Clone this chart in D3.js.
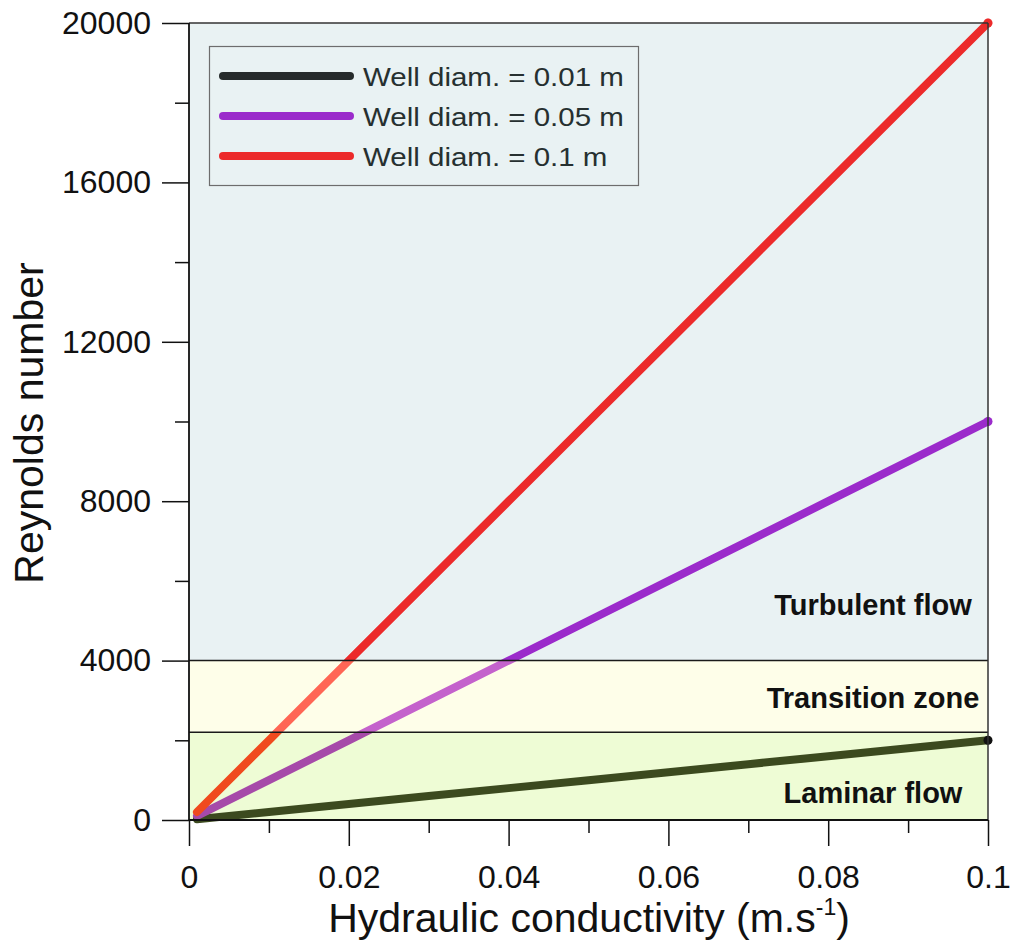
<!DOCTYPE html>
<html>
<head>
<meta charset="utf-8">
<script src="https://cdn.jsdelivr.net/npm/d3@7"></script>
<style>
  html, body { margin: 0; padding: 0; background: #ffffff; }
  svg { display: block; font-family: "Liberation Sans", Arial, sans-serif; }
</style>
</head>
<body>
<svg id="chart" width="1011" height="942"></svg>
<script>
// Hydraulic conductivity K (m/s)
const conductivity = [0.001, 0.01, 0.02, 0.03, 0.04, 0.05, 0.06, 0.07, 0.08, 0.09, 0.1];
// Reynolds number for each well diameter
const re001 = [20, 200, 400, 600, 800, 1000, 1200, 1400, 1600, 1800, 2000];
const re005 = [100, 1000, 2000, 3000, 4000, 5000, 6000, 7000, 8000, 9000, 10000];
const re01  = [200, 2000, 4000, 6000, 8000, 10000, 12000, 14000, 16000, 18000, 20000];

const seriesNames = ["Well diam. = 0.01 m", "Well diam. = 0.05 m", "Well diam. = 0.1 m"];
const seriesValues = [re001, re005, re01];

// Flow regime bands (Reynolds number limits)
const zoneNames = ["Laminar flow", "Transition zone", "Turbulent flow"];
const zoneLower = [0, 2200, 4000];
const zoneUpper = [2200, 4000, 20000];

const xTicks = [0, 0.02, 0.04, 0.06, 0.08, 0.1];
const xTickLabels = ["0", "0.02", "0.04", "0.06", "0.08", "0.1"];
const yTicks = [0, 4000, 8000, 12000, 16000, 20000];

// Styling
const zoneFill = ["#eefcd5", "#fefee9", "#e9f2f3"];
// line colour per series, per zone (laminar, transition, turbulent)
const lineColours = [
  ["#3c4a1f", "#3c4a1f", "#3c4a1f"],
  ["#a64aa9", "#c462cc", "#9b2bcb"],
  ["#f04a1e", "#ff6655", "#ec2a2a"]
];
const legendColours = ["#262b2b", "#9b2bcb", "#ec2a2a"];

const m = { left: 189, right: 988, top: 23, bottom: 820 };
const svg = d3.select("#chart");

const x = d3.scaleLinear().domain([0, 0.1]).range([m.left, m.right]);
const y = d3.scaleLinear().domain([0, 20000]).range([m.bottom, m.top]);

// zone bands
const zones = svg.append("g");
zoneNames.forEach((name, i) => {
  zones.append("rect")
    .attr("x", x(0)).attr("width", x(0.1) - x(0))
    .attr("y", y(zoneUpper[i])).attr("height", y(zoneLower[i]) - y(zoneUpper[i]))
    .attr("fill", zoneFill[i]);
});

// clip paths per zone, widened so round caps at the ends survive
const defs = svg.append("defs");
zoneNames.forEach((name, i) => {
  const top = i === 2 ? 0 : y(zoneUpper[i]);
  const bottom = i === 0 ? 942 : y(zoneLower[i]);
  defs.append("clipPath").attr("id", "zone" + i)
    .append("rect")
    .attr("x", 0).attr("width", 1011)
    .attr("y", top).attr("height", bottom - top);
});

const line = d3.line()
  .x((d, i) => x(conductivity[i]))
  .y(d => y(d));

seriesValues.forEach((vals, s) => {
  zoneNames.forEach((z, i) => {
    svg.append("path")
      .datum(vals)
      .attr("clip-path", "url(#zone" + i + ")")
      .attr("d", line)
      .attr("fill", "none")
      .attr("stroke", lineColours[s][i])
      .attr("stroke-width", 8)
      .attr("stroke-linecap", "round")
      .attr("stroke-linejoin", "round");
  });
});

// end dots at K = 0.1
seriesValues.forEach((vals, s) => {
  const last = vals.length - 1;
  const zi = vals[last] >= 4000 ? 2 : (vals[last] >= 2200 ? 1 : 0);
  svg.append("circle")
    .attr("cx", x(conductivity[last])).attr("cy", y(vals[last]))
    .attr("r", 4.5)
    .attr("fill", s === 0 ? "#111" : lineColours[s][zi]);
});

// zone boundary lines
[2200, 4000].forEach(v => {
  svg.append("line")
    .attr("x1", x(0)).attr("x2", x(0.1))
    .attr("y1", y(v)).attr("y2", y(v))
    .attr("stroke", "#1a1a1a").attr("stroke-width", 1.5);
});

// frame: top and right
svg.append("line").attr("x1", x(0)).attr("x2", x(0.1)).attr("y1", y(20000)).attr("y2", y(20000))
  .attr("stroke", "#333").attr("stroke-width", 1.5);
svg.append("line").attr("x1", x(0.1)).attr("x2", x(0.1)).attr("y1", y(20000)).attr("y2", y(0))
  .attr("stroke", "#333").attr("stroke-width", 1.5);

// zone labels
const zoneLabelY = [803, 708, 615];
zoneNames.forEach((name, i) => {
  svg.append("text")
    .attr("x", 873).attr("y", zoneLabelY[i])
    .attr("text-anchor", "middle")
    .attr("font-size", 29).attr("font-weight", "bold")
    .attr("fill", "#111")
    .text(name);
});

// axes
const tickFont = 32;
const yAxis = d3.axisLeft(y).tickValues(yTicks).tickSize(27).tickPadding(11).tickFormat(d3.format("d"));
const yAxisMinor = d3.axisLeft(y).tickValues([2000, 6000, 10000, 14000, 18000]).tickSize(14).tickFormat("");
const xAxis = d3.axisBottom(x).tickValues(xTicks).tickSize(26).tickPadding(19)
  .tickFormat((d, i) => xTickLabels[i]);
const xAxisMinor = d3.axisBottom(x).tickValues([0.01, 0.03, 0.05, 0.07, 0.09]).tickSize(13).tickFormat("");

function styleAxis(g) {
  g.select(".domain").remove();
  g.selectAll("line").attr("stroke", "#111").attr("stroke-width", 1.5);
  g.selectAll("text").attr("font-size", tickFont).attr("fill", "#111")
    .attr("font-family", "Liberation Sans, Arial, sans-serif");
}

svg.append("g").attr("transform", `translate(${m.left},0)`).call(yAxis).call(styleAxis);
svg.append("g").attr("transform", `translate(${m.left},0)`).call(yAxisMinor).call(styleAxis);
svg.append("g").attr("transform", `translate(0,${m.bottom})`).call(xAxis).call(styleAxis);
svg.append("g").attr("transform", `translate(0,${m.bottom})`).call(xAxisMinor).call(styleAxis);

// axis lines
svg.append("line").attr("x1", m.left).attr("x2", m.left).attr("y1", m.top).attr("y2", m.bottom)
  .attr("stroke", "#111").attr("stroke-width", 1.8);
svg.append("line").attr("x1", m.left).attr("x2", m.right).attr("y1", m.bottom).attr("y2", m.bottom)
  .attr("stroke", "#111").attr("stroke-width", 1.8);

// axis titles
const xTitle = svg.append("text")
  .attr("x", 589).attr("y", 932)
  .attr("text-anchor", "middle")
  .attr("font-size", 41).attr("fill", "#111");
xTitle.append("tspan").text("Hydraulic conductivity (m.s");
xTitle.append("tspan").attr("font-size", 23).attr("dy", -17).text("-1");
xTitle.append("tspan").attr("dy", 17).text(")");

svg.append("text")
  .attr("transform", `translate(43,423) rotate(-90)`)
  .attr("text-anchor", "middle")
  .attr("font-size", 41).attr("fill", "#111")
  .text("Reynolds number");

// legend
const lg = svg.append("g");
lg.append("rect")
  .attr("x", 209.5).attr("y", 46.5).attr("width", 429).attr("height", 139)
  .attr("fill", "#e9f2f3").attr("stroke", "#6d6d6d").attr("stroke-width", 1.2);
seriesNames.forEach((name, i) => {
  const ly = 76 + i * 40;
  lg.append("line")
    .attr("x1", 223).attr("x2", 350).attr("y1", ly).attr("y2", ly)
    .attr("stroke", legendColours[i]).attr("stroke-width", 8).attr("stroke-linecap", "round");
  lg.append("text")
    .attr("transform", `translate(363,${ly + 10}) scale(1.18,1)`)
    .attr("font-size", 25).attr("fill", "#263030")
    .text(name);
});
</script>
</body>
</html>
